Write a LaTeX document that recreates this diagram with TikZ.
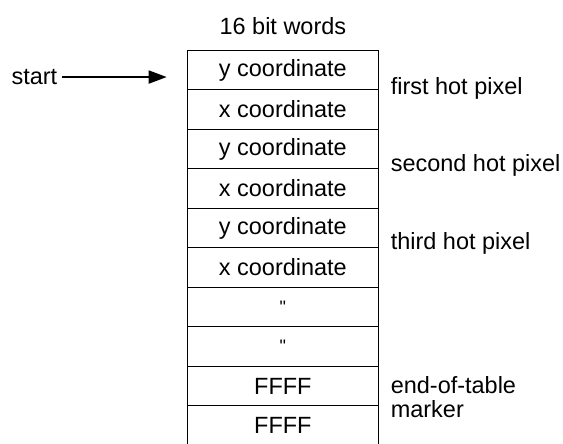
\documentclass[tikz,border=0pt]{standalone}
\usepackage{fontspec}
\setmainfont{Liberation Sans}[Ligatures=TeXOff]
\usetikzlibrary{positioning, arrows.meta}

\begin{document}
\begin{tikzpicture}[
    word/.style={minimum width=4.85cm, minimum height=1cm, inner sep=0pt, outer sep=0pt},
    note/.style={anchor=west, inner sep=0pt, align=left},
    rule/.style={line width=0.6pt},
    font=\fontsize{16.9}{17}\selectfont
]
    \useasboundingbox (0,0) rectangle (14.25,-11.22);

    % --- TABLE OF WORDS ---
    \node[word] (w1) at (7.16,-1.77) {y coordinate};
    \node[word, below=0pt of w1] (w2) {x coordinate};
    \node[word, below=0pt of w2] (w3) {y coordinate};
    \node[word, below=0pt of w3] (w4) {x coordinate};
    \node[word, below=0pt of w4] (w5) {y coordinate};
    \node[word, below=0pt of w5] (w6) {x coordinate};
    \node[word, below=0pt of w6] (w7) {\fontsize{13}{13}\selectfont\symbol{34}};
    \node[word, below=0pt of w7] (w8) {\fontsize{13}{13}\selectfont\symbol{34}};
    \node[word, below=0pt of w8] (w9) {FFFF};
    \node[word, below=0pt of w9] (w10) {FFFF};

    % row separators, the table is left open at the bottom
    \draw[rule] (w1.north west) -- (w10.south west) (w1.north east) -- (w10.south east);
    \draw[rule] (w1.north west) -- (w1.north east) (w2.north west) -- (w2.north east)
                (w3.north west) -- (w3.north east) (w4.north west) -- (w4.north east)
                (w5.north west) -- (w5.north east) (w6.north west) -- (w6.north east)
                (w7.north west) -- (w7.north east) (w8.north west) -- (w8.north east)
                (w9.north west) -- (w9.north east) (w10.north west) -- (w10.north east);

    \node[inner sep=0pt, above=0.38cm of w1] (title) {16 bit words};

    % --- START POINTER ---
    \node (start) at (0.87,-1.95) {start};
    \coordinate (tip) at (4.22,-1.95);
    \draw[-{Triangle[length=0.46cm, width=0.33cm]}, line width=1.4pt] (start) -- (tip);

    % --- LABELS ON THE RIGHT ---
    \node[note] (first) at ([xshift=0.3cm, yshift=0.02cm]w1.south east) {first hot pixel};
    \node[note] (second) at ([xshift=0.3cm, yshift=0.08cm]w3.south east) {second hot pixel};
    \node[note] (third) at ([xshift=0.3cm, yshift=0.12cm]w5.south east) {third hot pixel};
    \node[note] (marker) at ([xshift=0.3cm, yshift=0.22cm]w9.south east) {end-of-table\\marker};
\end{tikzpicture}
\end{document}
